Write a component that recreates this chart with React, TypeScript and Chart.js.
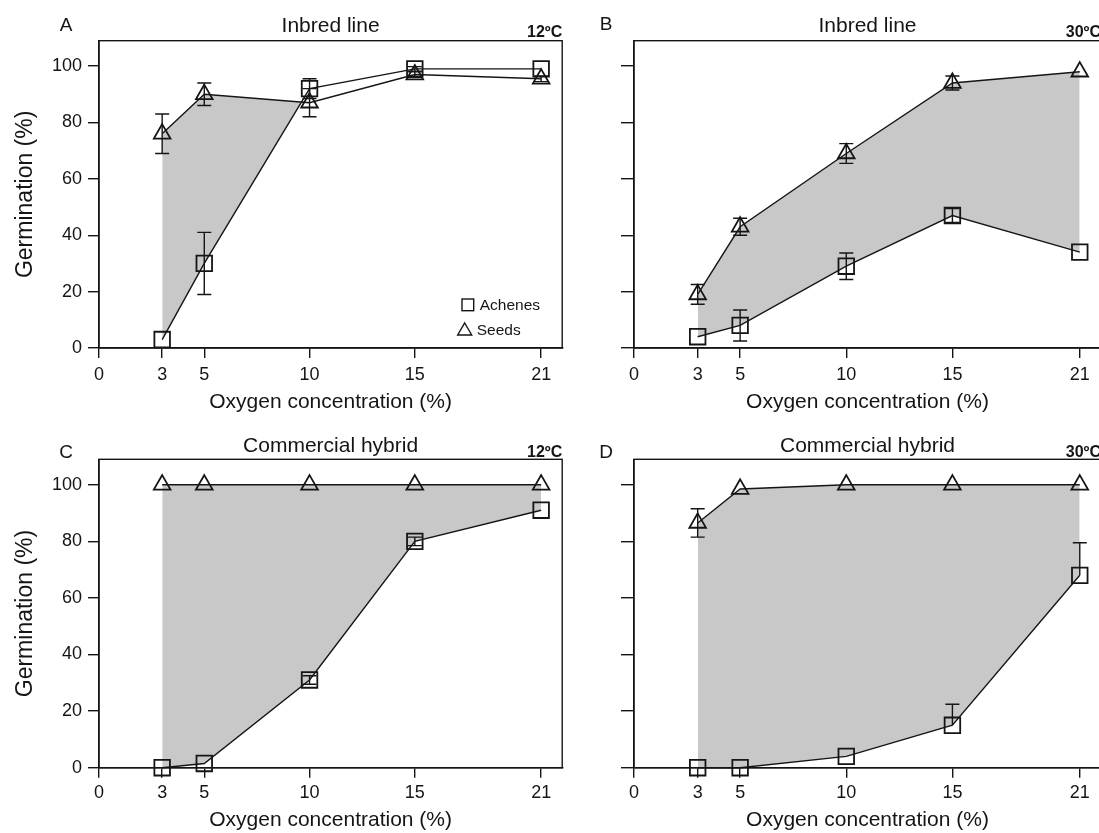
import React, { useEffect, useRef } from 'react';
import { Chart, registerables } from 'chart.js';

Chart.register(...registerables);

// ---------------- data ----------------
const oxygen = [3, 5, 10, 15, 21];
const xTicks = [0, 3, 5, 10, 15, 21];
const yTicks = [0, 20, 40, 60, 80, 100];

// A: Inbred line, 12 ºC
const achenesA = [3, 30, 92, 99, 99];
const achenesAErrUp = [0, 11, 3.5, 0.8, 0];
const achenesAErrDown = [0, 11, 3.5, 0.8, 0];
const seedsA = [76, 90, 87, 97, 95.5];
const seedsAErrUp = [7, 4, 5, 1, 1];
const seedsAErrDown = [7, 4, 5, 1, 1];

// B: Inbred line, 30 ºC
const achenesB = [4, 8, 29, 47, 34];
const achenesBErrUp = [0, 5.5, 4.7, 2.5, 0];
const achenesBErrDown = [0, 5.5, 4.7, 2.5, 0];
const seedsB = [19, 43, 69, 94, 98];
const seedsBErrUp = [3.5, 3, 3.5, 2.5, 0];
const seedsBErrDown = [3.5, 3, 3.5, 2.5, 0];

// C: Commercial hybrid, 12 ºC
const achenesC = [0, 1.5, 31, 80, 91];
const achenesCErrUp = [0, 0, 1.5, 1.5, 0];
const achenesCErrDown = [0, 0, 1.5, 1.5, 0];
const seedsC = [100, 100, 100, 100, 100];
const seedsCErrUp = [0, 0, 0, 0, 0];
const seedsCErrDown = [0, 0, 0, 0, 0];

// D: Commercial hybrid, 30 ºC
const achenesD = [0, 0, 4, 15, 68];
const achenesDErrUp = [0, 0, 0, 7.4, 11.5];
const achenesDErrDown = [0, 0, 0, 0, 0];
const seedsD = [86.5, 98.5, 100, 100, 100];
const seedsDErrUp = [5, 0, 0, 0, 0];
const seedsDErrDown = [5, 0, 0, 0, 0];

const legendLabels = ['Achenes', 'Seeds'];

// ---------------- styling ----------------
const FONT = '"Liberation Sans", Arial, Helvetica, sans-serif';
const INK = '#151515';
const GRAY = '#c8c8c8';
const LW = 1.4;

type Panel = {
  letter: string;
  title: string;
  temp: string;
  achenes: number[];
  achUp: number[];
  achDown: number[];
  seeds: number[];
  seedUp: number[];
  seedDown: number[];
  left: number;
  top: number;
  w: number;
  h: number;
  padTop: number;
  padRight: number;
  yW: number;
  xH: number;
  showY: boolean;
  legend: boolean;
  letterX: number;
  letterY: number;
  titleY: number;
  tempBase: number;
  yTickLen: number;
  xLabelPad: number;
};

const panels: Panel[] = [
  {
    letter: 'A', title: 'Inbred line', temp: '12ºC',
    achenes: achenesA, achUp: achenesAErrUp, achDown: achenesAErrDown,
    seeds: seedsA, seedUp: seedsAErrUp, seedDown: seedsAErrDown,
    left: 0, top: 0, w: 575, h: 416, padTop: 40.7, padRight: 11.5, yW: 99, xH: 68,
    showY: true, legend: true, letterX: 66, letterY: 26, titleY: 26, tempBase: 36.7, yTickLen: 11, xLabelPad: 6,
  },
  {
    letter: 'B', title: 'Inbred line', temp: '30ºC',
    achenes: achenesB, achUp: achenesBErrUp, achDown: achenesBErrDown,
    seeds: seedsB, seedUp: seedsBErrUp, seedDown: seedsBErrDown,
    left: 575, top: 0, w: 540, h: 416, padTop: 40.7, padRight: 14, yW: 59, xH: 68,
    showY: false, legend: false, letterX: 31, letterY: 25, titleY: 26, tempBase: 36.7, yTickLen: 13, xLabelPad: 6,
  },
  {
    letter: 'C', title: 'Commercial hybrid', temp: '12ºC',
    achenes: achenesC, achUp: achenesCErrUp, achDown: achenesCErrDown,
    seeds: seedsC, seedUp: seedsCErrUp, seedDown: seedsCErrDown,
    left: 0, top: 416, w: 575, h: 417, padTop: 43.3, padRight: 11.5, yW: 99, xH: 65.3,
    showY: true, legend: false, letterX: 66, letterY: 37, titleY: 30, tempBase: 40.7, yTickLen: 11, xLabelPad: 5,
  },
  {
    letter: 'D', title: 'Commercial hybrid', temp: '30ºC',
    achenes: achenesD, achUp: achenesDErrUp, achDown: achenesDErrDown,
    seeds: seedsD, seedUp: seedsDErrUp, seedDown: seedsDErrDown,
    left: 575, top: 416, w: 540, h: 417, padTop: 43.3, padRight: 14, yW: 59, xH: 65.3,
    showY: false, legend: false, letterX: 31, letterY: 37, titleY: 30, tempBase: 40.7, yTickLen: 13, xLabelPad: 5,
  },
];

function makeDeco(p: Panel) {
  return {
    id: 'deco' + p.letter,
    afterDatasetsDraw(chart: any) {
      const ctx = chart.ctx;
      const y = chart.scales.y;
      ctx.save();
      ctx.strokeStyle = INK;
      ctx.lineWidth = LW;
      chart.data.datasets.forEach((ds: any, i: number) => {
        const meta = chart.getDatasetMeta(i);
        meta.data.forEach((pt: any, j: number) => {
          const v = ds.data[j].y;
          const up = ds.errUp[j] || 0;
          const dn = ds.errDown[j] || 0;
          const cap = 7;
          if (up > 0) {
            const yt = y.getPixelForValue(v + up);
            ctx.beginPath();
            ctx.moveTo(pt.x, pt.y);
            ctx.lineTo(pt.x, yt);
            ctx.moveTo(pt.x - cap, yt);
            ctx.lineTo(pt.x + cap, yt);
            ctx.stroke();
          }
          if (dn > 0) {
            const yb = y.getPixelForValue(v - dn);
            ctx.beginPath();
            ctx.moveTo(pt.x, pt.y);
            ctx.lineTo(pt.x, yb);
            ctx.moveTo(pt.x - cap, yb);
            ctx.lineTo(pt.x + cap, yb);
            ctx.stroke();
          }
        });
      });
      ctx.restore();
    },
    afterDraw(chart: any) {
      const ctx = chart.ctx;
      const ca = chart.chartArea;
      ctx.save();
      // frame
      ctx.strokeStyle = INK;
      ctx.lineWidth = LW;
      ctx.strokeRect(ca.left, ca.top, ca.right - ca.left, ca.bottom - ca.top);
      // texts
      ctx.fillStyle = INK;
      ctx.textBaseline = 'middle';
      ctx.textAlign = 'center';
      ctx.font = `19px ${FONT}`;
      ctx.fillText(p.letter, p.letterX, p.letterY);
      ctx.font = `21px ${FONT}`;
      ctx.fillText(p.title, (ca.left + ca.right) / 2, p.titleY);
      ctx.textAlign = 'right';
      ctx.textBaseline = 'alphabetic';
      ctx.font = `bold 16px ${FONT}`;
      ctx.fillText(p.temp, ca.right, p.tempBase);
      // legend
      if (p.legend) {
        ctx.lineWidth = 1.4;
        ctx.strokeRect(ca.right - 100.2, ca.bottom - 49, 11.7, 11.7);
        ctx.beginPath();
        ctx.moveTo(ca.right - 97.5, ca.bottom - 25);
        ctx.lineTo(ca.right - 90.5, ca.bottom - 13);
        ctx.lineTo(ca.right - 104.5, ca.bottom - 13);
        ctx.closePath();
        ctx.stroke();
        ctx.font = `15.5px ${FONT}`;
        ctx.textAlign = 'left';
        ctx.textBaseline = 'middle';
        ctx.fillText(legendLabels[0], ca.right - 82.5, ca.bottom - 42.5);
        ctx.fillText(legendLabels[1], ca.right - 85.5, ca.bottom - 17.5);
      }
      ctx.restore();
    },
  };
}

function buildConfig(p: Panel): any {
  const common = {
    borderColor: INK,
    borderWidth: LW,
    pointBorderColor: INK,
    pointBackgroundColor: 'rgba(0,0,0,0)',
    pointBorderWidth: 1.8,
    tension: 0,
    clip: false,
  };
  return {
    type: 'line',
    data: {
      datasets: [
        {
          ...common,
          label: legendLabels[0],
          data: oxygen.map((x, i) => ({ x, y: p.achenes[i] })),
          pointStyle: 'rect',
          pointRadius: 11,
          fill: false,
          errUp: p.achUp,
          errDown: p.achDown,
        },
        {
          ...common,
          label: legendLabels[1],
          data: oxygen.map((x, i) => ({ x, y: p.seeds[i] })),
          pointStyle: 'triangle',
          pointRadius: 9.6,
          fill: { target: 0, above: GRAY, below: 'rgba(0,0,0,0)' },
          backgroundColor: GRAY,
          errUp: p.seedUp,
          errDown: p.seedDown,
        },
      ],
    },
    options: {
      animation: false,
      responsive: false,
      maintainAspectRatio: false,
      events: [],
      layout: { padding: { left: 0, right: p.padRight, top: p.padTop, bottom: 0 } },
      plugins: {
        legend: { display: false },
        tooltip: { enabled: false },
        title: { display: false },
        filler: { drawTime: 'beforeDatasetsDraw' },
      },
      scales: {
        x: {
          type: 'linear',
          min: 0,
          max: 22,
          afterBuildTicks: (s: any) => {
            s.ticks = xTicks.map((v) => ({ value: v }));
          },
          afterFit: (s: any) => {
            s.height = p.xH;
          },
          ticks: {
            autoSkip: false,
            maxRotation: 0,
            padding: p.xLabelPad,
            color: INK,
            font: { family: FONT, size: 18 },
            callback: (v: any) => String(v),
          },
          grid: {
            display: true,
            drawOnChartArea: false,
            drawTicks: true,
            tickLength: 10,
            color: INK,
            lineWidth: LW,
          },
          border: { display: true, color: INK, width: LW },
          title: {
            display: true,
            text: 'Oxygen concentration (%)',
            color: INK,
            font: { family: FONT, size: 21 },
            padding: { top: 0, bottom: p.top === 0 ? 1.4 : 0 },
          },
        },
        y: {
          type: 'linear',
          min: 0,
          max: 109,
          afterBuildTicks: (s: any) => {
            s.ticks = yTicks.map((v) => ({ value: v }));
          },
          afterFit: (s: any) => {
            s.width = p.yW;
          },
          ticks: {
            display: p.showY,
            padding: 6,
            color: INK,
            font: { family: FONT, size: 18 },
            callback: (v: any) => String(v),
          },
          grid: {
            display: true,
            drawOnChartArea: false,
            drawTicks: true,
            tickLength: p.yTickLen,
            color: INK,
            lineWidth: LW,
          },
          border: { display: true, color: INK, width: LW },
          title: {
            display: p.showY,
            text: 'Germination (%)',
            color: INK,
            font: { family: FONT, size: 23 },
            padding: { top: 11.5, bottom: 0 },
          },
        },
      },
    },
    plugins: [makeDeco(p)],
  };
}

function PanelChart({ p }: { p: Panel }) {
  const ref = useRef<HTMLCanvasElement>(null);
  useEffect(() => {
    const chart = new Chart(ref.current as HTMLCanvasElement, buildConfig(p));
    return () => chart.destroy();
  }, [p]);
  return (
    <canvas
      ref={ref}
      width={p.w}
      height={p.h}
      style={{ position: 'absolute', left: p.left, top: p.top, width: p.w, height: p.h, display: 'block' }}
    />
  );
}

export default function App() {
  return (
    <div
      style={{
        position: 'absolute',
        left: 0,
        top: 0,
        width: 1099,
        height: 833,
        overflow: 'hidden',
        background: '#ffffff',
      }}
    >
      {panels.map((p) => (
        <PanelChart key={p.letter} p={p} />
      ))}
    </div>
  );
}
